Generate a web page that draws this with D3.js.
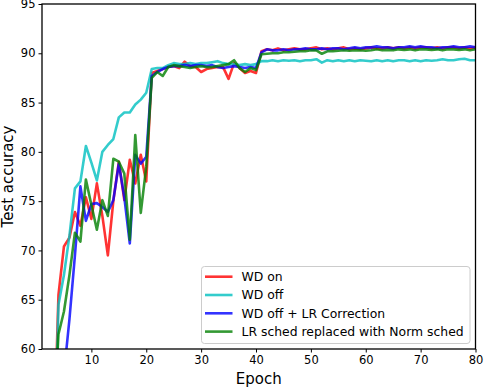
<!DOCTYPE html>
<html><head><meta charset="utf-8">
<script src="https://cdn.jsdelivr.net/npm/d3@7"></script>
<style>body{margin:0;background:#fff}svg{display:block;font-family:"DejaVu Sans",sans-serif}</style>
</head><body><svg id="c" width="484" height="388"></svg>
<script>
const epochs = d3.range(1, 81);
const wdOn = [20,35,47,65.5,70.4,71.3,73.9,72.5,75.4,73.2,76.8,73.5,69.5,75.0,79.0,75.1,79.2,76.8,79.7,77.0,
  88.0,88.2,88.4,88.6,88.7,88.5,89.15,88.7,88.6,88.1,88.4,88.5,88.6,88.6,87.4,89.0,88.5,88.0,88.2,88.0,
  90.2,90.4,90.3,90.5,90.3,90.4,90.5,90.4,90.4,90.5,90.6,90.4,90.5,90.4,90.5,90.6,90.4,90.5,90.4,90.5,
  90.6,90.5,90.5,90.6,90.5,90.6,90.5,90.6,90.5,90.6,90.6,90.5,90.6,90.5,90.6,90.6,90.5,90.6,90.5,90.6];
const wdOff = [20,32,42,64.5,67.5,71.5,76.3,77.0,80.6,78.9,77.1,80.0,80.7,81.3,83.5,84.0,84.0,84.8,85.3,86.0,
  88.4,88.5,88.5,88.8,89.0,88.9,88.9,89.0,88.9,89.0,89.0,89.1,89.2,89.0,88.9,88.9,88.8,88.9,88.8,88.9,
  89.2,89.2,89.3,89.2,89.3,89.25,89.3,89.2,89.3,89.3,89.4,89.05,89.3,89.2,89.3,89.2,89.3,89.2,89.3,89.25,
  89.2,89.3,89.2,89.3,89.2,89.3,89.3,89.2,89.3,89.2,89.3,89.25,89.3,89.4,89.3,89.3,89.4,89.45,89.3,89.3];
const wdOffLr = [20,35,45,50,57.5,63,69.5,76.5,73.0,74.7,74.8,74.4,73.9,75.1,78.8,75.4,70.7,79.7,78.8,79.5,
  87.7,88.1,88.4,88.6,88.7,88.7,88.8,88.7,88.8,88.8,88.7,88.8,88.6,88.5,88.6,88.7,88.6,88.5,88.6,88.5,
  90.1,90.4,90.3,90.3,90.4,90.3,90.4,90.4,90.5,90.4,90.4,90.5,90.4,90.5,90.5,90.4,90.5,90.6,90.5,90.6,
  90.6,90.7,90.6,90.6,90.5,90.6,90.6,90.7,90.6,90.7,90.6,90.6,90.5,90.6,90.6,90.7,90.6,90.6,90.7,90.6];
const normSched = [20,38,51,61.5,63.8,67.5,71.8,70.9,77.2,74.6,72.1,75.1,73.5,79.3,79.0,77.8,71.1,81.7,73.8,78.5,
  87.5,88.1,87.7,88.6,88.8,88.7,88.6,88.5,88.6,88.7,88.6,88.6,88.7,88.8,88.9,89.3,88.5,88.1,88.5,88.3,
  89.9,89.95,90.0,90.0,90.1,90.1,90.15,90.2,90.2,90.3,90.3,89.95,90.2,90.2,90.25,90.3,90.25,90.3,90.3,90.25,
  90.3,90.4,90.3,90.35,90.3,90.4,90.35,90.4,90.3,90.4,90.4,90.35,90.4,90.3,90.4,90.4,90.35,90.4,90.3,90.4];
const seriesNames = ["WD on", "WD off", "WD off + LR Correction", "LR sched replaced with Norm sched"];
const seriesColors = ["#ff0000", "#00bfbf", "#0000ff", "#008000"];
const seriesValues = [wdOn, wdOff, wdOffLr, normSched];
const xTicks = [10,20,30,40,50,60,70,80];
const yTicks = [60,65,70,75,80,85,90,95];

const L = 42, R = 475.5, T = 4, B = 349;
const svg = d3.select("#c");
const x = d3.scaleLinear().domain([1, 80]).range([L, R]);
const y = d3.scaleLinear().domain([60, 95]).range([B, T]);

svg.append("defs").append("clipPath").attr("id","clip")
  .append("rect").attr("x", L).attr("y", T).attr("width", R-L).attr("height", B-T);

const line = d3.line().x((d,i)=>x(epochs[i])).y(d=>y(d));
const g = svg.append("g").attr("clip-path","url(#clip)");
seriesValues.forEach((vals, k) => {
  g.append("path").datum(vals).attr("d", line)
    .attr("fill","none").attr("stroke", seriesColors[k]).attr("stroke-opacity",0.8)
    .attr("stroke-width",2.6).attr("stroke-linejoin","round");
});

const xAxis = svg.append("g").attr("transform",`translate(0,${B})`)
  .call(d3.axisBottom(x).tickValues(xTicks).tickSize(3.5).tickPadding(3).tickFormat(d3.format("d")));
const yAxis = svg.append("g").attr("transform",`translate(${L},0)`)
  .call(d3.axisLeft(y).tickValues(yTicks).tickSize(3.5).tickPadding(3).tickFormat(d3.format("d")));
[xAxis, yAxis].forEach(a => {
  a.select(".domain").remove();
  a.selectAll("line").attr("stroke","#000").attr("stroke-width",1);
  a.selectAll("text").attr("font-size","11.5px").attr("font-family","DejaVu Sans").attr("fill","#000");
});
svg.append("rect").attr("x",L).attr("y",T).attr("width",R-L).attr("height",B-T)
  .attr("fill","none").attr("stroke","#000").attr("stroke-width",1.3);

svg.append("text").attr("x",(L+R)/2).attr("y",384).attr("text-anchor","middle")
  .attr("font-size","15px").text("Epoch");
svg.append("text").attr("transform",`translate(13,${(T+B)/2}) rotate(-90)`).attr("text-anchor","middle")
  .attr("font-size","15px").text("Test accuracy");

const lg = svg.append("g");
lg.append("rect").attr("x",201.5).attr("y",266.5).attr("width",268.5).attr("height",77)
  .attr("rx",3).attr("fill","#fff").attr("fill-opacity",0.8).attr("stroke","#cccccc").attr("stroke-width",1);
seriesNames.forEach((n,k)=>{
  const yy = 276.7 + k*18.3;
  lg.append("line").attr("x1",205).attr("x2",232.5).attr("y1",yy).attr("y2",yy)
    .attr("stroke",seriesColors[k]).attr("stroke-opacity",0.8).attr("stroke-width",2.6);
  lg.append("text").attr("x",241.5).attr("y",yy).attr("dy","0.35em").attr("font-size","12.4px").text(n);
});
</script></body></html>
